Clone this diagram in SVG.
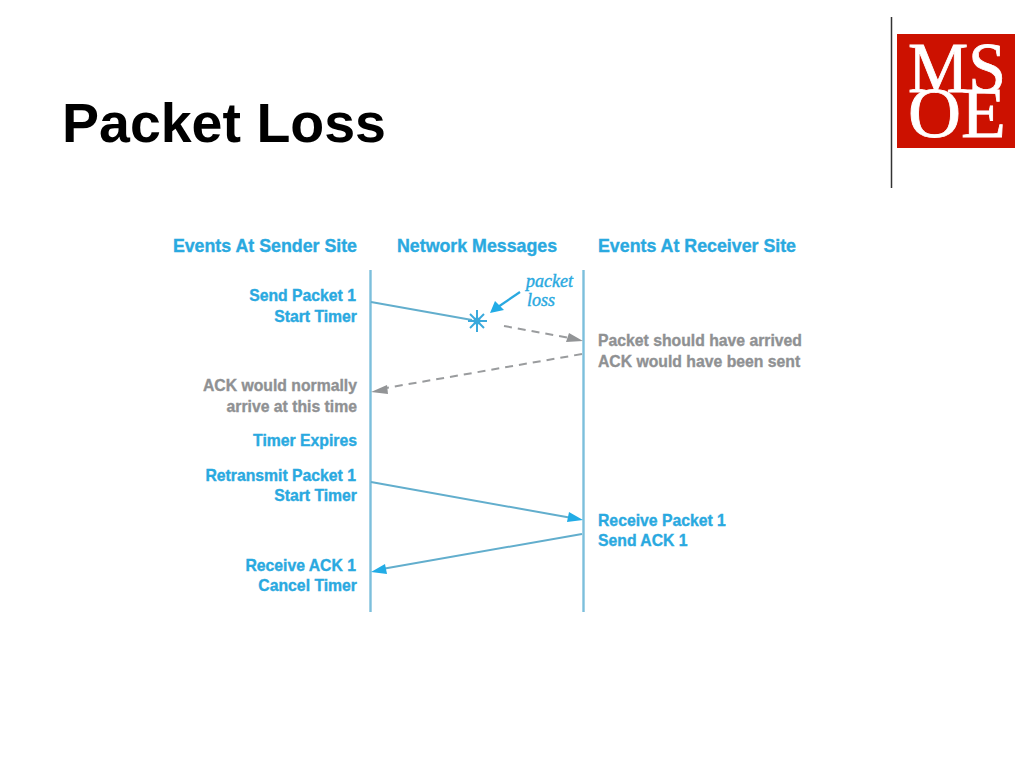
<svg xmlns="http://www.w3.org/2000/svg" width="1024" height="768" viewBox="0 0 1024 768">
<style>
text{font-family:"Liberation Sans",Arial,sans-serif}
.title{font-size:55.500px;font-weight:700;fill:#000}
.h,.b,.g{font-weight:700;stroke-width:.35px}
.h{font-size:17.800px;fill:#2aa9e0;stroke:#2aa9e0}
.b{font-size:15.750px;fill:#2aa9e0;stroke:#2aa9e0}
.g{font-size:15.750px;fill:#8f9193;stroke:#8f9193}
.r{text-anchor:end}
.i{font-family:"Liberation Serif","Times New Roman",serif;font-size:18px;font-style:italic;fill:#2aa9e0;stroke:#2aa9e0;stroke-width:.4px}
.logo{font-family:"Liberation Serif","Times New Roman",serif;fill:#fff;stroke:#fff;stroke-width:.8px;font-size:71px}
.life{stroke:#7cbfdc;stroke-width:2.400;fill:none}
.msg{stroke:#62aecd;stroke-width:2;fill:none}
.dash{stroke:#9a9c9e;stroke-width:2;fill:none;stroke-dasharray:8 6}
.ah{fill:#22ace6}
.ag{fill:#929496}
</style>
<g id="title"><text class="title" x="62" y="142">Packet Loss</text></g>
<g id="divider"><line x1="891.500" y1="17" x2="891.500" y2="188" stroke="#333" stroke-width="1.500"/></g>
<g id="logo">
<rect x="897" y="34" width="118" height="114" fill="#cc1100"/>
<text class="logo" x="908" y="91.500" textLength="98" lengthAdjust="spacingAndGlyphs">MS</text>
<text class="logo" x="908" y="136.500" textLength="98" lengthAdjust="spacingAndGlyphs">OE</text>
</g>
<g id="headers">
<text class="h r" x="357" y="251.500">Events At Sender Site</text>
<text class="h" x="397" y="251.500">Network Messages</text>
<text class="h" x="598" y="251.500">Events At Receiver Site</text>
</g>
<g id="sender-labels">
<text class="b r" x="356" y="301">Send Packet 1</text>
<text class="b r" x="357" y="321.500">Start Timer</text>
<text class="g r" x="357" y="391">ACK would normally</text>
<text class="g r" x="357" y="411.500">arrive at this time</text>
<text class="b r" x="357" y="446">Timer Expires</text>
<text class="b r" x="356" y="481">Retransmit Packet 1</text>
<text class="b r" x="357" y="501">Start Timer</text>
<text class="b r" x="356" y="571">Receive ACK 1</text>
<text class="b r" x="357" y="591">Cancel Timer</text>
</g>
<g id="receiver-labels">
<text class="g" x="598" y="346">Packet should have arrived</text>
<text class="g" x="598" y="366.500">ACK would have been sent</text>
<text class="b" x="598" y="526">Receive Packet 1</text>
<text class="b" x="598" y="546">Send ACK 1</text>
</g>
<g id="packet-loss-label">
<text class="i" x="526" y="287">packet</text>
<text class="i" x="527" y="306">loss</text>
</g>
<g id="connectors">
<line class="life" x1="370.500" y1="270" x2="370.500" y2="612"/>
<line class="life" x1="583.500" y1="270" x2="583.500" y2="612"/>
<line class="msg" x1="371" y1="302" x2="472" y2="320"/>
<line class="dash" x1="504" y1="326" x2="570" y2="338"/>
<polygon class="ag" points="583,341 569,333 566,342"/>
<line class="dash" x1="582" y1="354" x2="386" y2="388"/>
<polygon class="ag" points="371,392 387,385 388,394"/>
<line class="msg" x1="371" y1="482" x2="572" y2="518"/>
<polygon class="ah" points="583,520 569,512 567,522"/>
<line class="msg" x1="582" y1="534" x2="382" y2="569"/>
<polygon class="ah" points="371,572 385,564 387,574"/>
<line x1="520" y1="292" x2="498" y2="307" stroke="#2aa9e0" stroke-width="2.200"/>
<polygon class="ah" points="490,313 495,301 504,310"/>
</g>
<g id="burst" stroke="#3aa9dc" stroke-width="2">
<line x1="477" y1="310" x2="477" y2="332"/>
<line x1="468" y1="321" x2="487" y2="321"/>
<line x1="470" y1="314" x2="484" y2="328"/>
<line x1="484" y1="314" x2="470" y2="328"/>
<circle cx="477" cy="321" r="3.500" fill="#3aa9dc" stroke="none"/>
</g>
</svg>
